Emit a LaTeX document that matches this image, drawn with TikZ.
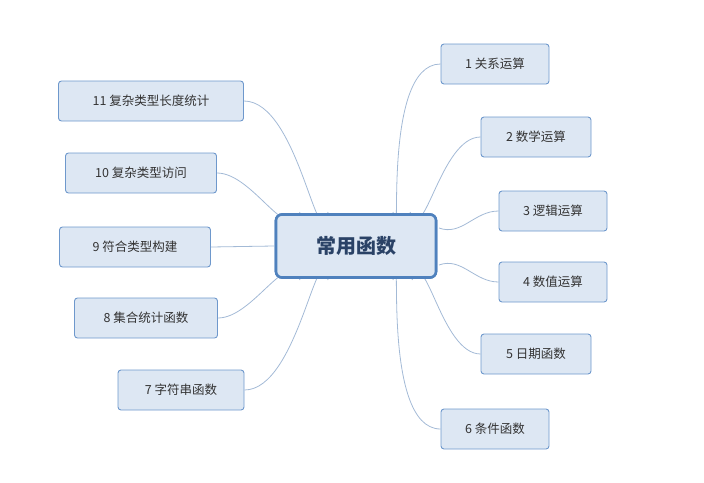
\documentclass[tikz,border=0pt]{standalone}
\usepackage{fontspec}
\setmainfont{Noto Sans CJK SC}
\definecolor{nfill}{HTML}{DDE7F3}
\definecolor{nborder}{HTML}{6E98CC}
\definecolor{cborder}{HTML}{4F81BD}
\definecolor{lnk}{HTML}{A3BAD6}
\definecolor{txt}{HTML}{333333}
\definecolor{ctxt}{HTML}{2A4266}
\tikzset{
 leaf/.style={draw=nborder,fill=nfill,rounded corners=3pt,line width=0.9pt,minimum height=40pt,inner xsep=6pt,font=\fontsize{12.5}{14}\selectfont,text=txt},
 root/.style={draw=cborder,fill=nfill,rounded corners=6pt,line width=2.6pt,minimum width=160pt,minimum height=63pt,font=\fontsize{20}{22}\selectfont\bfseries,text=ctxt},
 lk/.style={draw=lnk,line width=0.8pt}
}
\begin{document}
\begin{tikzpicture}[x=1pt,y=-1pt]
\useasboundingbox (0,0) rectangle (704,482);
\node[root] (c) at (356,246) {常用函数};
\node[leaf,minimum width=108pt] (n1) at (495,64) {1 关系运算};
\node[leaf,minimum width=110pt] (n2) at (536,137) {2 数学运算};
\node[leaf,minimum width=108pt] (n3) at (553,211) {3 逻辑运算};
\node[leaf,minimum width=108pt] (n4) at (553,282) {4 数值运算};
\node[leaf,minimum width=110pt] (n5) at (536,354) {5 日期函数};
\node[leaf,minimum width=108pt] (n6) at (495,429) {6 条件函数};
\node[leaf,minimum width=185pt] (n11) at (151,101) {11 复杂类型长度统计};
\node[leaf,minimum width=151pt] (n10) at (141,173) {10 复杂类型访问};
\node[leaf,minimum width=151pt] (n9) at (135,247) {9 符合类型构建};
\node[leaf,minimum width=143pt] (n8) at (146,318) {8 集合统计函数};
\node[leaf,minimum width=126pt] (n7) at (181,390) {7 字符串函数};
\coordinate (s1) at (393,212);
\coordinate (s2) at (410,212);
\coordinate (s3) at (439,228);
\coordinate (s4) at (439,265);
\coordinate (s5) at (412,280);
\coordinate (s6) at (393,280);
\coordinate (s11) at (328,212);
\coordinate (s10) at (300,212);
\coordinate (s9) at (274,246);
\coordinate (s8) at (300,280);
\coordinate (s7) at (328,280);
\draw[lk] (s1) to[out=-80,in=180] (n1.west);
\draw[lk] (s2) to[out=-70,in=180] (n2.west);
\draw[lk] (s3) to[out=-20,in=180] (n3.west);
\draw[lk] (s4) to[out=20,in=180] (n4.west);
\draw[lk] (s5) to[out=70,in=180] (n5.west);
\draw[lk] (s6) to[out=80,in=180] (n6.west);
\draw[lk] (s11) to[out=-100,in=0] (n11.east);
\draw[lk] (s10) to[out=-110,in=0] (n10.east);
\draw[lk] (s9) -- (n9.east);
\draw[lk] (s8) to[out=110,in=0] (n8.east);
\draw[lk] (s7) to[out=100,in=0] (n7.east);
\node[root] at (c) {常用函数};
\end{tikzpicture}
\end{document}
